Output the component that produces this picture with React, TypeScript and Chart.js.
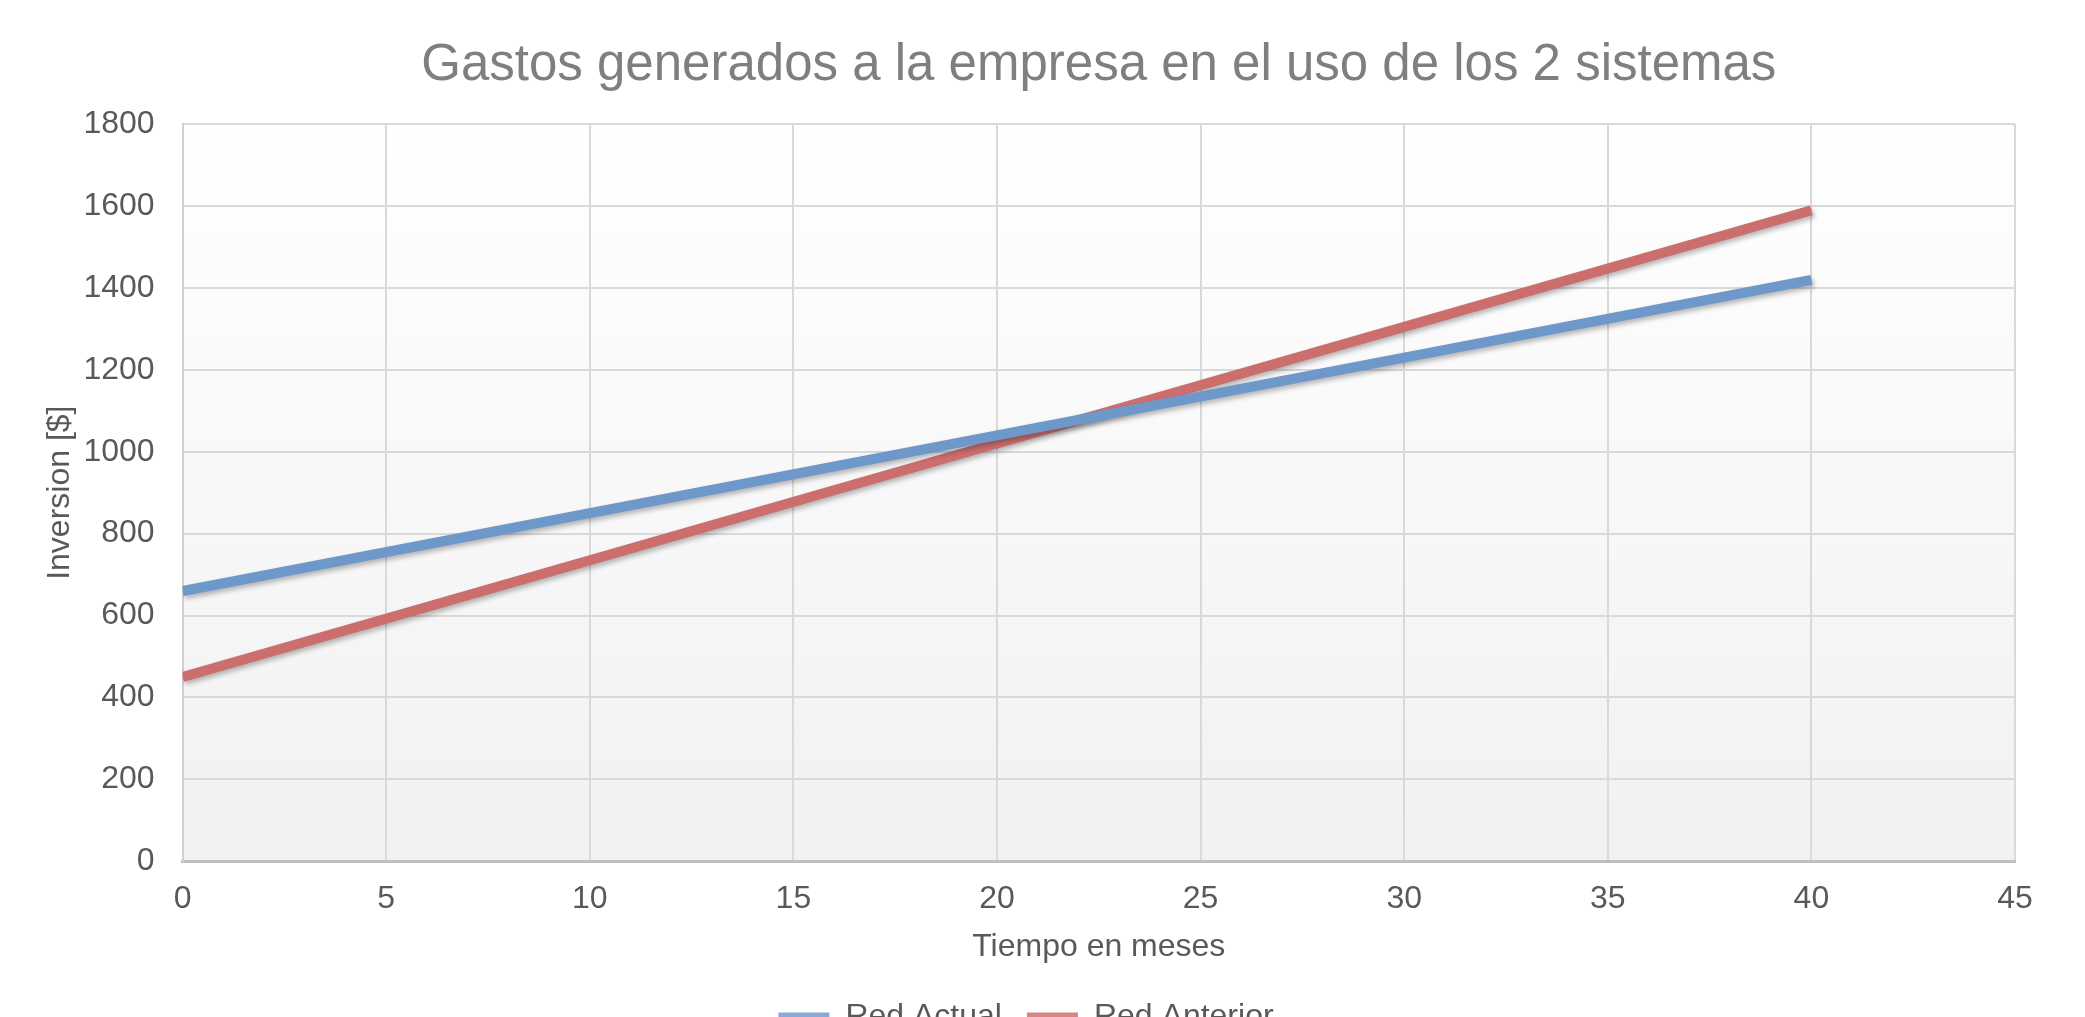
import React, { useEffect, useRef } from "react";
import { Chart, registerables } from "chart.js";

Chart.register(...registerables);

const months = [0, 10, 20, 30, 40];
const redActual = [660, 850, 1040, 1230, 1420];
const redAnterior = [450, 735, 1020, 1305, 1590];
const seriesNames = ["Red Actual", "Red Anterior"];
const titleText = "Gastos generados a la empresa en el uso de los 2 sistemas";
const xTitle = "Tiempo en meses";
const yTitle = "Inversion [$]";

const W = 2085;
const H = 1043;
const FONT = "'Liberation Sans', Arial, sans-serif";

const bgPlugin = {
  id: "plotBg",
  beforeDraw(chart: any) {
    const { ctx, chartArea } = chart;
    if (!chartArea) return;
    const g = ctx.createLinearGradient(0, chartArea.top, 0, chartArea.bottom);
    g.addColorStop(0, "#ffffff");
    g.addColorStop(1, "#f1f1f1");
    ctx.save();
    ctx.fillStyle = g;
    ctx.fillRect(chartArea.left, chartArea.top, chartArea.right - chartArea.left, chartArea.bottom - chartArea.top);
    ctx.restore();
  },
  beforeDatasetsDraw(chart: any) {
    const ctx = chart.ctx;
    ctx.save();
    ctx.shadowColor = "rgba(0,0,0,0.28)";
    ctx.shadowBlur = 5;
    ctx.shadowOffsetX = 2;
    ctx.shadowOffsetY = 3;
  },
  afterDatasetsDraw(chart: any) {
    chart.ctx.restore();
  },
};

export default function App() {
  const ref = useRef<HTMLCanvasElement>(null);
  useEffect(() => {
    if (!ref.current) return;
    const lineColors = ["#6d98c9", "#cb6e6d"];
    const legendColors = ["#87aad6", "#d88585"];
    const chart = new Chart(ref.current, {
      type: "line",
      data: {
        datasets: [
          {
            label: seriesNames[0],
            data: months.map((m, i) => ({ x: m, y: redActual[i] })),
            borderColor: lineColors[0],
            backgroundColor: legendColors[0],
            borderWidth: 10,
            pointRadius: 0,
            borderCapStyle: "butt",
          },
          {
            label: seriesNames[1],
            data: months.map((m, i) => ({ x: m, y: redAnterior[i] })),
            borderColor: lineColors[1],
            backgroundColor: legendColors[1],
            borderWidth: 10,
            pointRadius: 0,
            borderCapStyle: "butt",
          },
        ],
      },
      options: {
        responsive: false,
        animation: false,
        devicePixelRatio: 1,
        layout: { padding: { left: 37, right: 70, top: 0, bottom: 0 } },
        plugins: {
          title: {
            display: true,
            fullSize: false,
            text: titleText,
            color: "#7f7f7f",
            font: { family: FONT, size: 51, weight: "normal" },
            padding: { top: 35, bottom: 28 },
          },
          legend: {
            position: "bottom",
            labels: {
              color: "#595959",
              font: { family: FONT, size: 32 },
              boxWidth: 51,
              boxHeight: 9,
              padding: 25,
              generateLabels: (c: any) =>
                c.data.datasets.map((d: any, i: number) => ({
                  text: d.label,
                  fillStyle: legendColors[i],
                  strokeStyle: legendColors[i],
                  lineWidth: 0,
                  datasetIndex: i,
                  fontColor: "#595959",
                })),
            },
          },
          tooltip: { enabled: false },
        },
        scales: {
          x: {
            type: "linear",
            min: 0,
            max: 45,
            ticks: {
              stepSize: 5,
              color: "#595959",
              font: { family: FONT, size: 32 },
              padding: 19,
              callback: (v: any) => String(v),
            },
            grid: { color: "#d9d9d9", lineWidth: 2, drawTicks: false },
            border: { color: "#bfbfbf", width: 3 },
            title: {
              display: true,
              text: xTitle,
              color: "#595959",
              font: { family: FONT, size: 32 },
              padding: { top: -10, bottom: 10 },
            },
          },
          y: {
            min: 0,
            max: 1800,
            ticks: {
              stepSize: 200,
              color: "#595959",
              font: { family: FONT, size: 32 },
              padding: 28,
              callback: (v: any) => String(v),
            },
            grid: { color: "#d9d9d9", lineWidth: 2, drawTicks: false },
            border: { color: "#d0d0d0", width: 2 },
            title: {
              display: true,
              text: yTitle,
              color: "#595959",
              font: { family: FONT, size: 32 },
              padding: { top: 4, bottom: -24 },
            },
          },
        },
      },
      plugins: [bgPlugin],
    } as any);
    return () => chart.destroy();
  }, []);
  return (
    <div style={{ position: "fixed", left: 0, top: 0, width: W, height: 1017, overflow: "hidden", background: "#fff" }}>
      <canvas ref={ref} width={W} height={H} style={{ width: W, height: H, display: "block" }} />
    </div>
  );
}
